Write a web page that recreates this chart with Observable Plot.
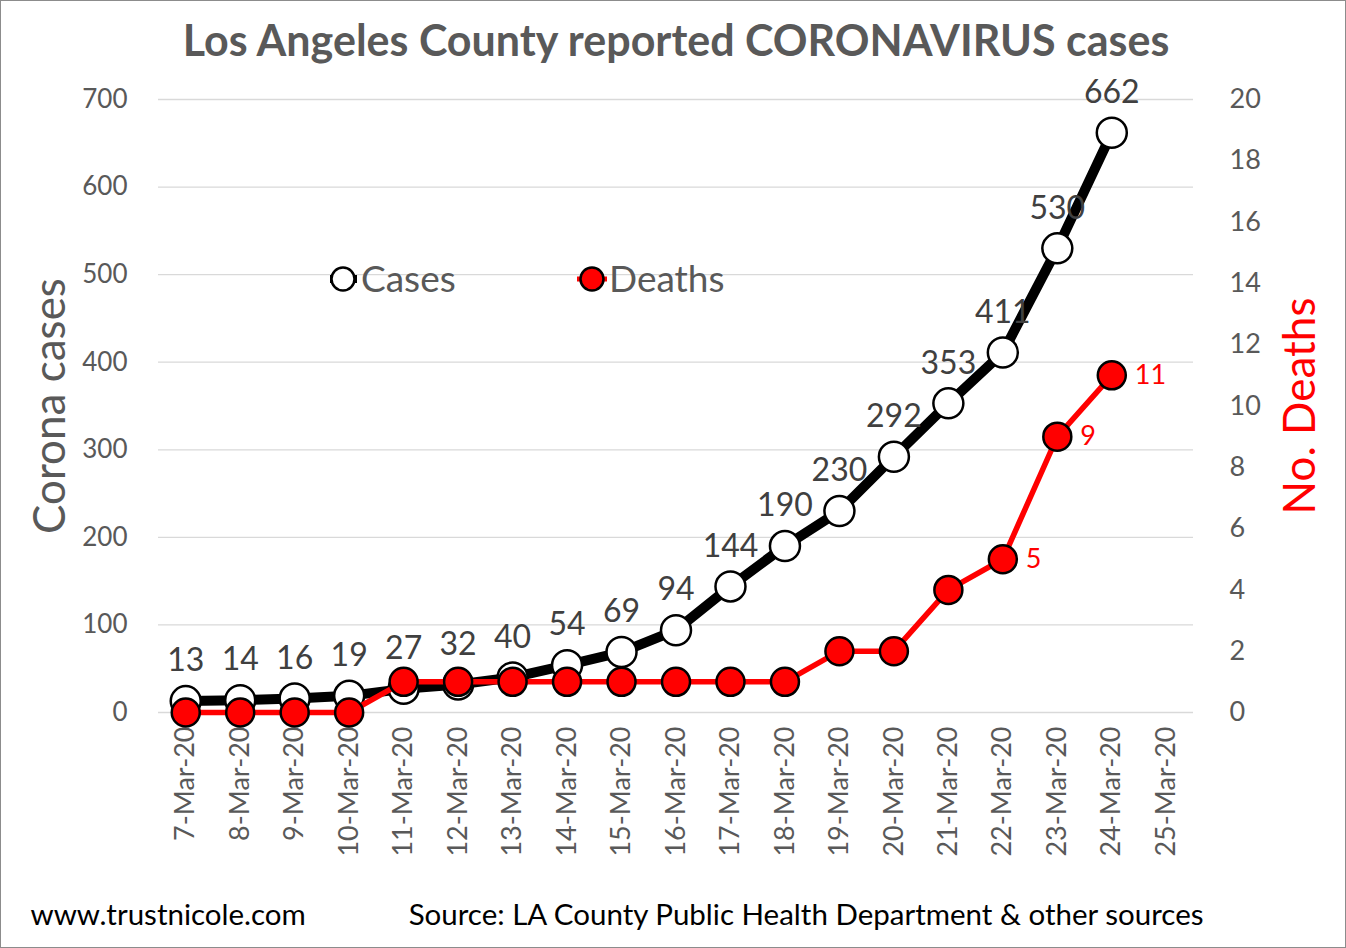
<!DOCTYPE html>
<html>
<head>
<meta charset="utf-8">
<script src="https://cdn.jsdelivr.net/npm/d3@7"></script>
<script src="https://cdn.jsdelivr.net/npm/@observablehq/plot@0.6"></script>
<style>
  html, body { margin: 0; padding: 0; background: #fff; }
  #wrap { position: relative; width: 1346px; height: 948px; overflow: hidden; }
  #border { position: absolute; left: 0; top: 0; width: 1346px; height: 948px; box-sizing: border-box; border: 1px solid #8c8c8c; pointer-events: none; }
</style>
</head>
<body>
<div id="wrap"><div id="chart"></div><div id="border"></div></div>
<script>
// ---- data ----
const dates = ["7-Mar-20","8-Mar-20","9-Mar-20","10-Mar-20","11-Mar-20","12-Mar-20","13-Mar-20","14-Mar-20","15-Mar-20","16-Mar-20","17-Mar-20","18-Mar-20","19-Mar-20","20-Mar-20","21-Mar-20","22-Mar-20","23-Mar-20","24-Mar-20","25-Mar-20"];
const cases  = [13, 14, 16, 19, 27, 32, 40, 54, 69, 94, 144, 190, 230, 292, 353, 411, 530, 662];
const deaths = [0, 0, 0, 0, 1, 1, 1, 1, 1, 1, 1, 1, 2, 2, 4, 5, 9, 11];
const caseTicks  = [0, 100, 200, 300, 400, 500, 600, 700];
const deathTicks = [0, 2, 4, 6, 8, 10, 12, 14, 16, 18, 20];
const deathLabelDates = ["22-Mar-20", "23-Mar-20", "24-Mar-20"];
const legendLabels = ["Cases", "Deaths"];
const titleText = "Los Angeles County reported CORONAVIRUS cases";
const yTitleLeft = "Corona cases";
const yTitleRight = "No. Deaths";
const footLeft = "www.trustnicole.com";
const footRight = "Source: LA County Public Health Department & other sources";

// deaths share the same vertical scale: 20 deaths == 700 cases
const SCALE = 700 / 20;

const rows = cases.map((c, i) => ({date: dates[i], cases: c, deaths: deaths[i], dy: deaths[i] * SCALE}));
const deathLabelRows = rows.filter(d => deathLabelDates.includes(d.date));

const GRAY = "#595959";

function legendMark(index, scales, values, dims) {
  const g = d3.create("svg:g").attr("text-anchor", "start");
  const y = 279;
  // Cases
  g.append("line").attr("x1", 330).attr("x2", 357).attr("y1", y).attr("y2", y)
    .attr("stroke", "black").attr("stroke-width", 8);
  g.append("circle").attr("cx", 343).attr("cy", y).attr("r", 11.5)
    .attr("fill", "white").attr("stroke", "black").attr("stroke-width", 2.5);
  g.append("text").attr("x", 361).attr("y", y).attr("dy", "0.36em")
    .attr("font-size", 37).attr("fill", GRAY).text(legendLabels[0]);
  // Deaths
  g.append("line").attr("x1", 577).attr("x2", 607).attr("y1", y).attr("y2", y)
    .attr("stroke", "red").attr("stroke-width", 5);
  g.append("circle").attr("cx", 592).attr("cy", y).attr("r", 11.5)
    .attr("fill", "red").attr("stroke", "black").attr("stroke-width", 2.5);
  g.append("text").attr("x", 609).attr("y", y).attr("dy", "0.36em")
    .attr("font-size", 37).attr("fill", GRAY).text(legendLabels[1]);
  return g.node();
}

const chart = Plot.plot({
  width: 1346,
  height: 948,
  marginTop: 99,
  marginBottom: 236,
  marginLeft: 158,
  marginRight: 153,
  style: {fontFamily: "Lato, 'Open Sans', sans-serif", background: "white", overflow: "visible"},
  x: {type: "point", domain: dates, padding: 0.5, round: false},
  y: {domain: [0, 700]},
  marks: [
    Plot.gridY(caseTicks, {stroke: "#d9d9d9", strokeOpacity: 1, strokeWidth: 1.3}),
    Plot.axisY(caseTicks, {anchor: "left", tickSize: 0, tickPadding: 31, fontSize: 26, color: GRAY, label: null}),
    Plot.axisY(deathTicks.map(d => d * SCALE), {anchor: "right", tickSize: 0, tickPadding: 36, fontSize: 27, color: GRAY, label: null, tickFormat: d => String(Math.round(d / SCALE))}),
    Plot.axisX({anchor: "bottom", tickRotate: -90, tickSize: 0, tickPadding: 14, fontSize: 27, color: GRAY, label: null}),
    // cases
    Plot.line(rows, {x: "date", y: "cases", stroke: "black", strokeWidth: 10}),
    Plot.dot(rows, {x: "date", y: "cases", r: 15, fill: "white", stroke: "black", strokeWidth: 2.5}),
    // deaths
    Plot.line(rows, {x: "date", y: "dy", stroke: "red", strokeWidth: 5.5}),
    Plot.dot(rows, {x: "date", y: "dy", r: 14, fill: "red", stroke: "black", strokeWidth: 2.5}),
    // labels
    Plot.text(rows, {x: "date", y: "cases", text: d => String(d.cases), dy: -40, fontSize: 32, fill: "#404040"}),
    Plot.text(deathLabelRows, {x: "date", y: "dy", text: d => String(d.deaths), dx: 23, textAnchor: "start", fontSize: 27, fill: "red"}),
    legendMark,
    // titles
    Plot.text([titleText], {frameAnchor: "top", dy: -57, lineAnchor: "middle", fontSize: 43, fontWeight: "bold", fill: GRAY}),
    Plot.text([yTitleLeft], {frameAnchor: "left", dx: -108, rotate: -90, textAnchor: "middle", lineAnchor: "middle", fontSize: 44, fill: GRAY}),
    Plot.text([yTitleRight], {frameAnchor: "right", dx: 107, rotate: -90, textAnchor: "middle", lineAnchor: "middle", fontSize: 44, fill: "red"}),
    Plot.text([footLeft], {frameAnchor: "bottom-left", dx: -128, dy: 203, textAnchor: "start", lineAnchor: "middle", fontSize: 29.5, fill: "black"}),
    Plot.text([footRight], {frameAnchor: "bottom-right", dx: 10, dy: 203, textAnchor: "end", lineAnchor: "middle", fontSize: 29.5, fill: "black"})
  ]
});
document.getElementById("chart").appendChild(chart);
</script>
</body>
</html>
